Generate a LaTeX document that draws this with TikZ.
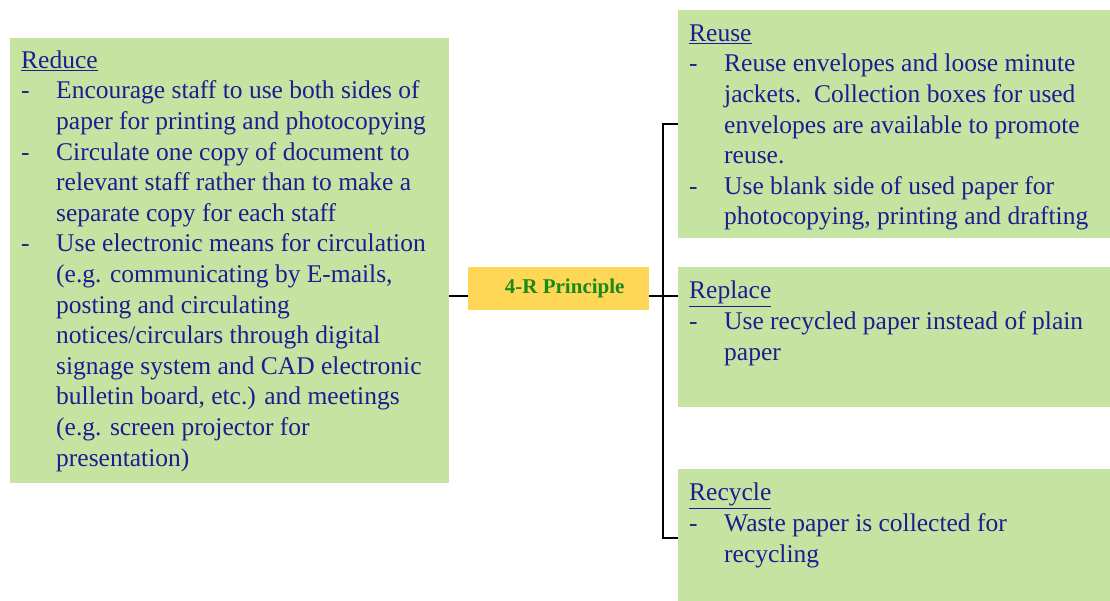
\documentclass[tikz,border=0pt]{standalone}
\usepackage{fontspec}
\newfontfamily\boxfont{Liberation Serif}
\definecolor{boxgreen}{RGB}{197,228,161}
\definecolor{hubgold}{RGB}{255,215,87}
\definecolor{txtblue}{RGB}{31,27,145}
\definecolor{hubtext}{RGB}{23,138,23}
\newcommand{\itm}[1]{\makebox[35pt][l]{-}#1}
\newcommand{\cnt}[1]{\hspace*{35pt}#1}
\begin{document}
\begin{tikzpicture}[
x=1pt, y=-1pt,
box/.style={rectangle, fill=boxgreen, anchor=north west, inner sep=0pt},
hub/.style={rectangle, fill=hubgold, anchor=north west, inner sep=0pt, minimum width=181pt, minimum height=43pt, font=\boxfont\fontsize{21}{25}\selectfont\bfseries, text=hubtext},
txt/.style={anchor=north west, inner sep=0pt, align=left, font=\boxfont\fontsize{25.5}{30.6}\selectfont, text=txtblue},
conn/.style={draw=black, line width=1.5pt}
]
\useasboundingbox (0,0) rectangle (1110,601);
\node[box, minimum width=439pt, minimum height=445pt] (reduce) at (10,38) {};
\node[box, minimum width=432pt, minimum height=228pt] (reuse) at (678,10) {};
\node[box, minimum width=432pt, minimum height=140pt] (replace) at (678,267) {};
\node[box, minimum width=432pt, minimum height=132pt] (recycle) at (678,469) {};
\node[hub] (hub) at (468,267) {\hspace*{12pt}4-R Principle};
\node[txt] (reducetxt) at (21,50.5) {\underline{Reduce}\\
\itm{Encourage staff to use both sides of}\\
\cnt{paper for printing and photocopying}\\
\itm{Circulate one copy of document to}\\
\cnt{relevant staff rather than to make a}\\
\cnt{separate copy for each staff}\\
\itm{Use electronic means for circulation}\\
\cnt{(e.g. communicating by E-mails,}\\
\cnt{posting and circulating}\\
\cnt{notices/circulars through digital}\\
\cnt{signage system and CAD electronic}\\
\cnt{bulletin board, etc.) and meetings}\\
\cnt{(e.g. screen projector for}\\
\cnt{presentation)}};
\node[txt] (reusetxt) at (689,24.5) {\underline{Reuse}\\
\itm{Reuse envelopes and loose minute}\\
\cnt{jackets.\ \ Collection boxes for used}\\
\cnt{envelopes are available to promote}\\
\cnt{reuse.}\\
\itm{Use blank side of used paper for}\\
\cnt{photocopying, printing and drafting}};
\node[txt] (replacetxt) at (689,281) {\underline{Replace}\\
\itm{Use recycled paper instead of plain}\\
\cnt{paper}};
\node[txt] (recycletxt) at (689,483) {\underline{Recycle}\\
\itm{Waste paper is collected for}\\
\cnt{recycling}};
% connectors
\coordinate (hubin) at (468,296);
\coordinate (spine) at (663,296);
\coordinate (spinetop) at (663,124);
\coordinate (spinebot) at (663,538);
\draw[conn] (reduce.east |- hubin) -- (hubin);
\draw[conn] (hub.east |- spine) -- (replace.west |- spine);
\draw[conn] (reuse.west |- spinetop) -- (spinetop) -- (spinebot) -- (recycle.west |- spinebot);
\end{tikzpicture}
\end{document}
